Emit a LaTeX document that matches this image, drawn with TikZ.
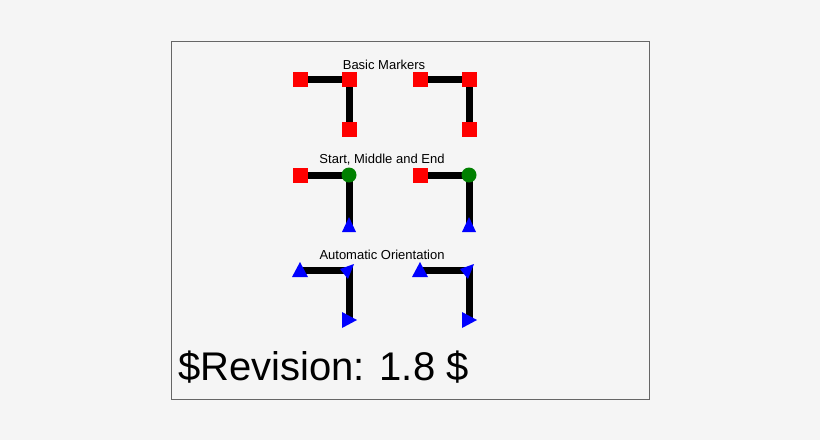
\documentclass[tikz,border=0pt]{standalone}
\usepackage{fontspec}
\setmainfont{Liberation Sans}
\usetikzlibrary{calc}
\begin{document}
\begin{tikzpicture}[x=1pt,y=-1pt,
  ln/.style={line width=7pt},
  sq/.style={fill=red,minimum size=15pt,inner sep=0pt,draw=none},
  dot/.style={circle,fill=green!50!black,minimum size=15pt,inner sep=0pt},
  lbl/.style={font=\fontsize{13}{13}\selectfont,inner sep=0pt}]
\fill[white!96!black] (0,0) rectangle (820,440);
\useasboundingbox (0,0) rectangle (820,440);
\draw[gray!80!black,line width=1pt,fill=white!96!black] (171,41) rectangle (649,399);
\node[lbl] (t1) at (384,65) {Basic Markers};
\node[lbl] (t2) at (382,160) {Start, Middle and End};
\node[lbl] (t3) at (382,255) {Automatic Orientation};
\foreach \dx in {0,120}{
 \coordinate (a\dx) at (300+\dx,79); \coordinate (b\dx) at (349+\dx,79); \coordinate (c\dx) at (349+\dx,129);
 \draw[ln] (a\dx) -- (b\dx) -- (c\dx);
 \node[sq] at (a\dx) {}; \node[sq] at (b\dx) {}; \node[sq] at (c\dx) {};
 \coordinate (d\dx) at (300+\dx,175); \coordinate (e\dx) at (349+\dx,175); \coordinate (f\dx) at (349+\dx,225);
 \draw[ln] (d\dx) -- (e\dx) -- (f\dx);
 \node[sq] at (d\dx) {}; \node[dot] at (e\dx) {};
 \fill[blue] ($(f\dx)+(-7,7)$) -- ($(f\dx)+(7,7)$) -- ($(f\dx)+(0,-8)$) -- cycle;
 \coordinate (g\dx) at (300+\dx,270); \coordinate (h\dx) at (349+\dx,270); \coordinate (i\dx) at (349+\dx,320);
 \draw[ln] (g\dx) -- (h\dx) -- (i\dx);
 \fill[blue] ($(g\dx)+(-8,7)$) -- ($(g\dx)+(8,7)$) -- ($(g\dx)+(0,-8)$) -- cycle;
 \fill[blue] ($(h\dx)+(-9,-1)$) -- ($(h\dx)+(5,-6)$) -- ($(h\dx)+(-1,9)$) -- cycle;
 \fill[blue] ($(i\dx)+(-7,-8)$) -- ($(i\dx)+(-7,8)$) -- ($(i\dx)+(8,0)$) -- cycle;
}
\node[font=\fontsize{40}{40}\selectfont,anchor=west,inner sep=0pt] (rev) at (178,367) {\$Revision: 1.8 \$};
\end{tikzpicture}
\end{document}
